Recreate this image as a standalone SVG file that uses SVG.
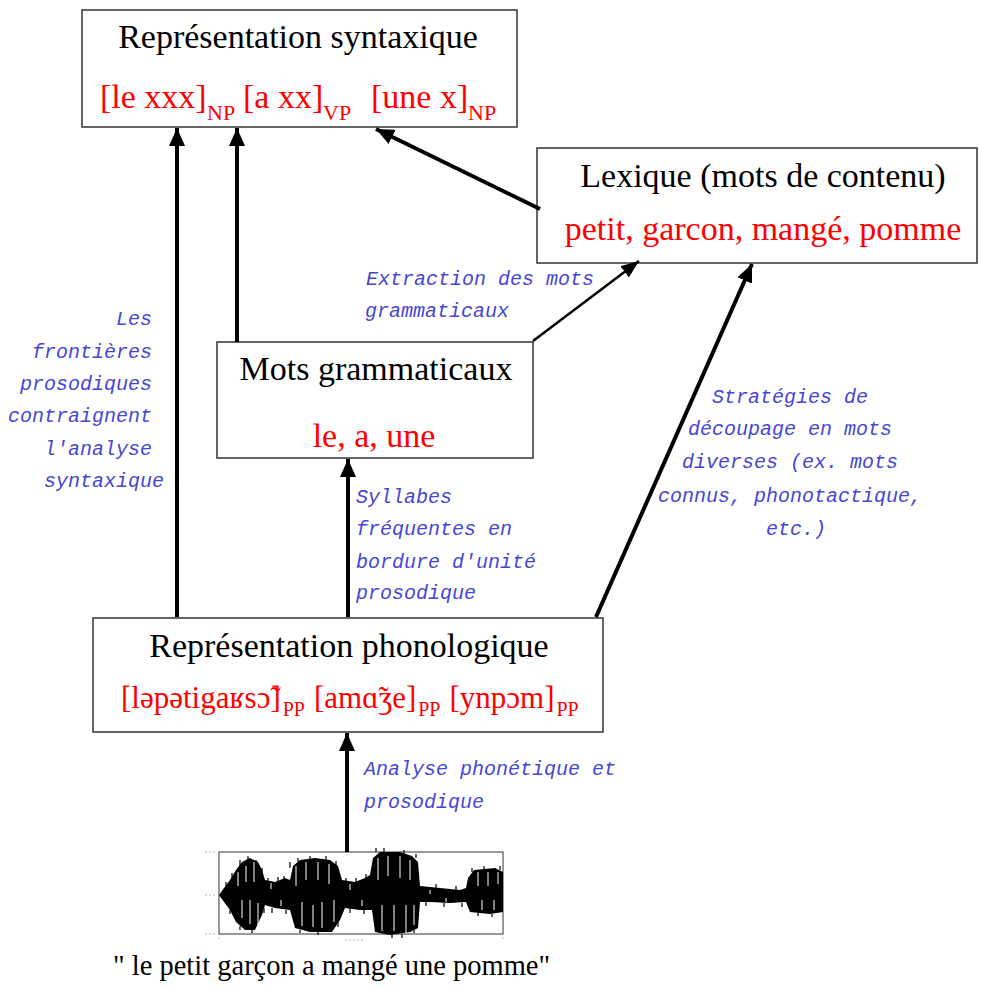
<svg xmlns="http://www.w3.org/2000/svg" width="981" height="988" viewBox="0 0 981 988">
<style>
.box{fill:#fff;stroke:#333;stroke-width:1.5}
.t{font-family:"Liberation Serif","DejaVu Serif",serif;font-size:34px;fill:#000}
.r{font-family:"Liberation Serif","DejaVu Serif",serif;font-size:34px;fill:#ff0000}
.sub{font-size:22px}
.pp{font-size:20px}
.lab{font-family:"Liberation Mono","DejaVu Sans Mono",monospace;font-style:italic;font-size:20px;fill:#4646d2}
.ar{stroke:#000;stroke-width:4;fill:none;marker-end:url(#ah)}
.ar2{stroke:#000;stroke-width:2.5;fill:none;marker-end:url(#ah2)}
</style>
<defs>
<marker id="ah" markerUnits="userSpaceOnUse" markerWidth="20" markerHeight="16" refX="18" refY="8" orient="auto" viewBox="0 0 20 16">
<path d="M0,0 L18,8 L0,16 z" fill="#000"/>
</marker>
<marker id="ah2" markerUnits="userSpaceOnUse" markerWidth="20" markerHeight="16" refX="18" refY="7" orient="auto" viewBox="0 0 20 16">
<path d="M0,0 L18,7 L0,14 z" fill="#000"/>
</marker>
</defs>
<rect width="981" height="988" fill="#fff"/>

<g id="syntaxe">
<rect class="box" x="82" y="10" width="435" height="117"/>
<text class="t" x="298" y="48" text-anchor="middle">Représentation syntaxique</text>
<text class="r" y="108"><tspan x="100">[le xxx]</tspan><tspan class="sub" x="207" dy="12">NP</tspan><tspan x="243" dy="-12">[a xx]</tspan><tspan class="sub" x="323" dy="12">VP</tspan><tspan x="371" dy="-12">[une x]</tspan><tspan class="sub" x="468" dy="12">NP</tspan></text>
</g>

<g id="lexique">
<rect class="box" x="537" y="148" width="440" height="115"/>
<text class="t" x="763" y="187" text-anchor="middle">Lexique (mots de contenu)</text>
<text class="r" x="763" y="240" text-anchor="middle">petit, garcon, mangé, pomme</text>
</g>

<g id="mots">
<rect class="box" x="217" y="342" width="316" height="116"/>
<text class="t" x="376" y="380" text-anchor="middle">Mots grammaticaux</text>
<text class="r" x="374" y="447" text-anchor="middle">le, a, une</text>
</g>

<g id="phonologie">
<rect class="box" x="93" y="618" width="510" height="114"/>
<text class="t" x="349" y="657" text-anchor="middle">Représentation phonologique</text>
<text class="r" x="121" y="708" style="font-size:31px"><tspan>[ləpətigaʁsɔ̃]</tspan><tspan class="pp" dx="2" dy="8">PP</tspan><tspan dx="9" dy="-8">[amɑ̃ʒe]</tspan><tspan class="pp" dx="2" dy="8">PP</tspan><tspan dx="9" dy="-8">[ynpɔm]</tspan><tspan class="pp" dx="2" dy="8">PP</tspan></text>
</g>

<g id="signal">
<rect x="219" y="852" width="284" height="82" fill="#fff" stroke="#333" stroke-width="1"/>
<path d="M205,852 h12 M205,895 h12 M205,934 h12 M219,937 v3 M503,937 v3 M345,940 h20" stroke="#bbb" stroke-width="1" stroke-dasharray="2,2"/>
<path fill="#000" d="M219,895 L224,888 L230,880 L236,870 L242,862 L250,858 L258,862 L262,870 L265,880 L275,882 L285,878 L290,880 L293,866 L300,860 L315,858 L330,860 L338,866 L342,880 L355,882 L365,878 L370,875 L373,858 L380,852 L400,852 L412,856 L418,862 L420,886 L440,888 L460,890 L466,888 L468,878 L474,870 L495,868 L503,872 L503,912 L490,914 L470,912 L466,902 L450,903 L430,902 L420,902 L418,928 L410,932 L390,935 L375,932 L372,910 L360,910 L345,908 L340,920 L332,932 L310,932 L295,928 L290,910 L275,908 L265,905 L262,915 L255,930 L245,930 L236,922 L230,910 L224,902 Z"/>
<path stroke="#fff" stroke-width="1" d="M238,872 v14 M242,900 v18 M246,866 v16 M250,900 v24 M254,862 v20 M258,903 v22 M271,883 v6 M281,900 v6 M296,866 v20 M302,902 v24 M306,862 v18 M313,905 v22 M318,862 v18 M322,902 v26 M329,864 v20 M334,900 v22 M350,884 v6 M362,900 v6 M378,858 v22 M382,905 v26 M388,856 v20 M394,905 v26 M400,856 v22 M406,905 v28 M410,860 v20 M414,905 v20 M430,890 v4 M446,898 v4 M478,872 v14 M482,900 v10 M488,872 v14 M494,900 v10 M498,872 v12"/>
<path stroke="#000" stroke-width="1.2" d="M226,886 v-4 M232,878 v-5 M240,866 v-6 M248,860 v-4 M256,864 v-4 M262,874 v-6 M268,882 v-4 M278,882 v-5 M284,880 v-4 M290,868 v-6 M298,862 v-4 M310,860 v-4 M326,860 v-4 M336,866 v-5 M346,882 v-4 M356,882 v-4 M366,878 v-4 M376,852 v-4 M384,852 v-4 M404,854 v-4 M416,858 v-4 M436,888 v-4 M456,890 v-4 M472,872 v-4 M484,870 v-4 M500,870 v-4 M230,910 v4 M240,926 v4 M252,930 v3 M264,908 v5 M272,908 v5 M286,910 v4 M300,930 v3 M318,932 v3 M338,922 v5 M350,908 v5 M364,910 v4 M392,934 v4 M402,934 v4 M414,930 v3 M426,902 v4 M444,903 v4 M462,903 v4 M478,912 v4 M492,914 v3"/>
</g>

<g id="connecteurs">
<line class="ar" x1="177" y1="617" x2="177" y2="128"/>
<line class="ar" x1="237" y1="342" x2="237" y2="128"/>
<line class="ar" x1="540" y1="209" x2="376" y2="129"/>
<line class="ar2" x1="533" y1="341" x2="639" y2="261"/>
<line class="ar" x1="348" y1="617" x2="348" y2="459"/>
<line class="ar" x1="596" y1="617" x2="752" y2="264"/>
<line class="ar" x1="347" y1="852" x2="347" y2="733"/>
</g>

<g id="labels">
<text class="lab" text-anchor="end">
<tspan x="164" y="325">Les</tspan>
<tspan x="164" y="358">frontières</tspan>
<tspan x="164" y="390">prosodiques</tspan>
<tspan x="164" y="422">contraignent</tspan>
<tspan x="164" y="455">l'analyse</tspan>
<tspan x="164" y="487">syntaxique</tspan>
</text>
<text class="lab">
<tspan x="366" y="285">Extraction des mots</tspan>
<tspan x="365" y="317">grammaticaux</tspan>
</text>
<text class="lab">
<tspan x="356" y="503">Syllabes</tspan>
<tspan x="356" y="535">fréquentes en</tspan>
<tspan x="356" y="568">bordure d'unité</tspan>
<tspan x="356" y="599">prosodique</tspan>
</text>
<text class="lab" text-anchor="middle">
<tspan x="796" y="403">Stratégies de</tspan>
<tspan x="796" y="435">découpage en mots</tspan>
<tspan x="796" y="468">diverses (ex. mots</tspan>
<tspan x="796" y="502">connus, phonotactique,</tspan>
<tspan x="796" y="535">etc.)</tspan>
</text>
<text class="lab">
<tspan x="364" y="775">Analyse phonétique et</tspan>
<tspan x="364" y="808">prosodique</tspan>
</text>
</g>

<g id="phrase">
<text class="t" x="113" y="975" style="font-size:28.5px">" le petit garçon a mangé une pomme"</text>
</g>
</svg>
